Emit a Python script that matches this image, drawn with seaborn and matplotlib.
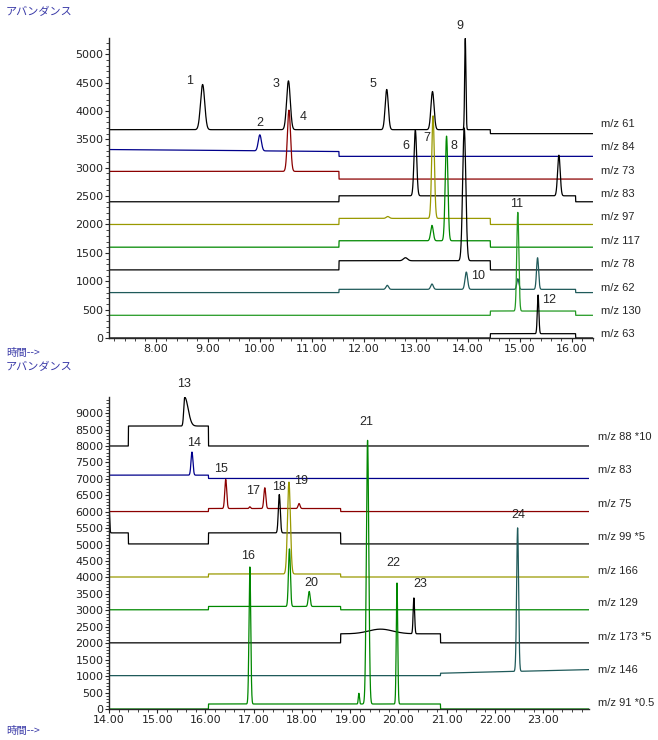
import numpy as np
import pandas as pd
import matplotlib
matplotlib.use("Agg")
import matplotlib.pyplot as plt
from matplotlib.ticker import MultipleLocator, FormatStrFormatter
import seaborn as sns

# ---------------- DATA ----------------
# baselines: (time, abundance) knots ; peaks: (time, apex abundance, sigma_left, sigma_right)
TOP_NAMES = ["m/z 61", "m/z 84", "m/z 73", "m/z 83", "m/z 97", "m/z 117", "m/z 78", "m/z 62", "m/z 130", "m/z 63"]
TOP_COLORS = ["#000000", "#00008b", "#8b0000", "#000000", "#999900", "#008800", "#000000", "#1f5a5a", "#229922", "#000000"]

MZ61_BASE = [(7.1, 3670), (14.43, 3670), (14.43, 3600), (16.4, 3600)]
MZ61_PEAKS = [(8.90, 4466, .04, .04), (10.55, 4530, .035, .035), (12.44, 4378, .03, .03),
              (13.32, 4342, .03, .03), (13.95, 5276, .012, .012)]
MZ84_BASE = [(7.1, 3320), (11.52, 3285), (11.52, 3200), (16.4, 3200)]
MZ84_PEAKS = [(10.0, 3579, .03, .03)]
MZ73_BASE = [(7.1, 2935), (11.52, 2935), (11.52, 2800), (16.4, 2800)]
MZ73_PEAKS = [(10.56, 4014, .03, .03)]
MZ83_BASE = [(7.1, 2400), (11.52, 2400), (11.52, 2505), (16.07, 2505), (16.07, 2400), (16.4, 2400)]
MZ83_PEAKS = [(12.99, 3662, .025, .025), (15.75, 3220, .025, .025)]
MZ97_BASE = [(7.1, 2000), (11.52, 2000), (11.52, 2107), (14.43, 2107), (14.43, 2000), (16.4, 2000)]
MZ97_PEAKS = [(12.46, 2140, .03, .03), (13.33, 3914, .025, .025)]
MZ117_BASE = [(7.1, 1600), (11.52, 1600), (11.52, 1713), (14.43, 1713), (14.43, 1600), (16.4, 1600)]
MZ117_PEAKS = [(13.31, 1984, .025, .025), (13.59, 3556, .025, .025)]
MZ78_BASE = [(7.1, 1200), (11.52, 1200), (11.52, 1361), (14.43, 1361), (14.43, 1200), (16.4, 1200)]
MZ78_PEAKS = [(12.80, 1414, .04, .04), (13.93, 3700, .03, .03)]
MZ62_BASE = [(7.1, 800), (11.52, 800), (11.52, 857), (16.07, 857), (16.07, 800), (16.4, 800)]
MZ62_PEAKS = [(12.45, 928, .025, .025), (13.31, 951, .025, .025), (13.97, 1162, .025, .025),
              (14.96, 1044, .02, .02), (15.34, 1414, .02, .02)]
MZ130_BASE = [(7.1, 400), (14.43, 400), (14.43, 475), (16.07, 475), (16.07, 400), (16.4, 400)]
MZ130_PEAKS = [(14.96, 2213, .02, .02)]
MZ63_BASE = [(7.1, 0), (14.43, 0), (14.43, 76), (16.07, 76), (16.07, 0), (16.4, 0)]
MZ63_PEAKS = [(15.35, 757, .015, .015)]

TOP_BASES = [MZ61_BASE, MZ84_BASE, MZ73_BASE, MZ83_BASE, MZ97_BASE, MZ117_BASE, MZ78_BASE, MZ62_BASE, MZ130_BASE, MZ63_BASE]
TOP_PEAKS = [MZ61_PEAKS, MZ84_PEAKS, MZ73_PEAKS, MZ83_PEAKS, MZ97_PEAKS, MZ117_PEAKS, MZ78_PEAKS, MZ62_PEAKS, MZ130_PEAKS, MZ63_PEAKS]

BOT_NAMES = ["m/z 88 *10", "m/z 83", "m/z 75", "m/z 99 *5", "m/z 166", "m/z 129", "m/z 173 *5", "m/z 146", "m/z 91 *0.5"]
BOT_COLORS = ["#000000", "#00008b", "#8b0000", "#000000", "#999900", "#008800", "#000000", "#1f5a5a", "#008800"]

B88_BASE = [(14.0, 8000), (14.40, 8000), (14.40, 8607), (16.06, 8607), (16.06, 8000), (23.95, 8000)]
B88_PEAKS = [(15.57, 9480, .02, .07)]
B83_BASE = [(14.0, 7113), (16.06, 7113), (16.06, 7012), (23.95, 7012)]
B83_PEAKS = [(15.72, 7814, .02, .02)]
B75_BASE = [(14.0, 6006), (16.06, 6006), (16.06, 6098), (18.80, 6098), (18.80, 6006), (23.95, 6006)]
B75_PEAKS = [(16.42, 6982, .02, .02), (16.92, 6150, .015, .015), (17.23, 6729, .02, .02), (17.94, 6250, .02, .02)]
B99_BASE = [(14.0, 5357), (14.40, 5357), (14.40, 5021), (16.06, 5021), (16.06, 5357), (18.80, 5357),
            (18.80, 5021), (23.95, 5021)]
B99_PEAKS = [(14.0, 6168, .005, .012), (17.53, 6524, .02, .02)]
B166_BASE = [(14.0, 4015), (16.06, 4015), (16.06, 4107), (18.80, 4107), (18.80, 4015), (23.95, 4015)]
B166_PEAKS = [(17.73, 6900, .03, .03)]
B129_BASE = [(14.0, 3018), (16.06, 3018), (16.06, 3119), (18.80, 3119), (18.80, 3018), (23.95, 3018)]
B129_PEAKS = [(17.74, 4869, .02, .02), (18.15, 3576, .02, .02)]
B173_BASE = [(14.0, 2012), (18.80, 2012), (18.80, 2287), (20.87, 2287), (20.87, 2012), (23.95, 2012)]
B173_PEAKS = [(19.63, 2429, .25, .25), (20.32, 3375, .015, .015)]
B146_BASE = [(14.0, 1015), (20.87, 1015), (20.87, 1088), (23.95, 1198)]
B146_PEAKS = [(22.47, 5509, .02, .02)]
B91_BASE = [(14.0, 0), (16.06, 0), (16.06, 152), (20.87, 152), (20.87, 0), (23.95, 0)]
B91_PEAKS = [(16.92, 4320, .018, .018), (19.18, 478, .012, .012), (19.36, 8171, .025, .025), (19.97, 3832, .015, .015)]

BOT_BASES = [B88_BASE, B83_BASE, B75_BASE, B99_BASE, B166_BASE, B129_BASE, B173_BASE, B146_BASE, B91_BASE]
BOT_PEAKS = [B88_PEAKS, B83_PEAKS, B75_PEAKS, B99_PEAKS, B166_PEAKS, B129_PEAKS, B173_PEAKS, B146_PEAKS, B91_PEAKS]

TOP_LABELS = [("1", 8.64, 4525), ("2", 10.0, 3785), ("3", 10.31, 4472), ("4", 10.83, 3890),
              ("5", 12.18, 4466), ("6", 12.81, 3385), ("7", 13.22, 3515), ("8", 13.73, 3385),
              ("9", 13.85, 5493), ("10", 14.19, 1097), ("11", 14.94, 2354), ("12", 15.56, 669)]
BOT_LABELS = [("13", 15.56, 9878), ("14", 15.77, 8100), ("15", 16.32, 7287), ("16", 16.88, 4643),
              ("17", 16.99, 6625), ("18", 17.53, 6759), ("19", 17.99, 6930), ("20", 18.2, 3832),
              ("21", 19.33, 8729), ("22", 19.90, 4442), ("23", 20.46, 3801), ("24", 22.49, 5915)]


# ---------------- BUILD ----------------
def build_trace(t, base, peaks):
    bt = np.array([b[0] for b in base]); by = np.array([b[1] for b in base], float)
    bt = bt + np.arange(len(bt)) * 1e-6
    y = np.interp(t, bt, by)
    for (t0, apex, sl, sr) in peaks:
        amp = apex - np.interp(t0, bt, by)
        s = np.where(t < t0, sl, sr)
        y = y + amp * np.exp(-0.5 * ((t - t0) / s) ** 2)
    return y


def make_df(names, bases, peaks, t0, t1):
    t = np.arange(t0, t1 + 1e-9, 0.002)
    frames = []
    for n, b, p in zip(names, bases, peaks):
        frames.append(pd.DataFrame({"time": t, "abundance": build_trace(t, b, p), "trace": n}))
    return pd.concat(frames, ignore_index=True)


sns.set_style("ticks")
plt.rcParams["font.family"] = ["Liberation Sans", "DejaVu Sans"]

W, H = 658, 740
fig = plt.figure(figsize=(W / 100, H / 100), dpi=100)

ax1 = fig.add_axes([109 / W, 1 - 338 / H, (592.7 - 109) / W, (338 - 38) / H])
ax2 = fig.add_axes([109 / W, 1 - 709 / H, (589 - 109) / W, (709 - 397) / H])

df_top = make_df(TOP_NAMES, TOP_BASES, TOP_PEAKS, 7.1, 16.4)
df_bot = make_df(BOT_NAMES, BOT_BASES, BOT_PEAKS, 14.0, 23.95)

sns.lineplot(data=df_top, x="time", y="abundance", hue="trace", hue_order=TOP_NAMES,
             palette=dict(zip(TOP_NAMES, TOP_COLORS)), estimator=None, sort=False,
             legend=False, linewidth=0.9, ax=ax1)
sns.lineplot(data=df_bot, x="time", y="abundance", hue="trace", hue_order=BOT_NAMES,
             palette=dict(zip(BOT_NAMES, BOT_COLORS)), estimator=None, sort=False,
             legend=False, linewidth=0.9, ax=ax2)

ax1.set_xlim(7.1, 16.4); ax1.set_ylim(0, 5285)
ax2.set_xlim(14.0, 23.95); ax2.set_ylim(0, 9490)

for ax in (ax1, ax2):
    sns.despine(ax=ax)
    ax.set_xlabel(""); ax.set_ylabel("")
    ax.xaxis.set_major_locator(MultipleLocator(1))
    ax.xaxis.set_minor_locator(MultipleLocator(0.2))
    ax.yaxis.set_major_locator(MultipleLocator(500))
    ax.yaxis.set_minor_locator(MultipleLocator(100))
    ax.xaxis.set_major_formatter(FormatStrFormatter("%.2f"))
    ax.tick_params(axis="both", which="major", length=3, width=0.8, labelsize=8,
                   labelcolor="#222222", pad=1)
    ax.tick_params(axis="both", which="minor", length=2, width=0.6)
    for lab in ax.get_xticklabels() + ax.get_yticklabels():
        lab.set_family("DejaVu Sans")
    ax.spines["left"].set_linewidth(1.0)
    ax.spines["bottom"].set_linewidth(1.0)

for txt, x, y in TOP_LABELS:
    ax1.text(x, y, txt, ha="center", va="center", fontsize=9, clip_on=False)
for txt, x, y in BOT_LABELS:
    ax2.text(x, y, txt, ha="center", va="center", fontsize=9, clip_on=False)

TOP_LABEL_PX = [124.3, 147, 171, 194, 216.7, 241, 264, 287.7, 311, 334]
BOT_LABEL_PX = [437.3, 470, 504.3, 537.3, 570.7, 603.3, 636.7, 670, 703.3]
for n, py in zip(TOP_NAMES, TOP_LABEL_PX):
    fig.text(601 / W, 1 - py / H, n, ha="left", va="center", fontsize=8)
for n, py in zip(BOT_NAMES, BOT_LABEL_PX):
    fig.text(598 / W, 1 - py / H, n, ha="left", va="center", fontsize=8)

jp = ["Noto Sans CJK JP", "DejaVu Sans"]
jcol = "#3a3aa8"
fig.text(6 / W, 1 - 12 / H, "アバンダンス", family=jp, fontsize=8, color=jcol, va="center")
fig.text(6 / W, 1 - 353 / H, "時間-->", family=jp, fontsize=7.5, color=jcol, va="center")
fig.text(6 / W, 1 - 367 / H, "アバンダンス", family=jp, fontsize=8, color=jcol, va="center")
fig.text(6 / W, 1 - 731 / H, "時間-->", family=jp, fontsize=7.5, color=jcol, va="center")

fig.savefig("out.png", dpi=100)
